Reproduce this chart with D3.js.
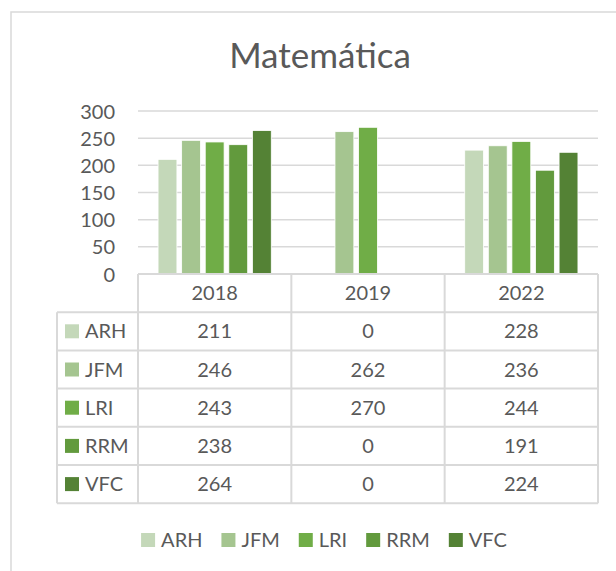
<!DOCTYPE html>
<html>
<head>
<meta charset="utf-8">
<script src="https://cdn.jsdelivr.net/npm/d3@7"></script>
<style>
  body { margin: 0; background: #fff; }
  text { font-family: Lato, "Open Sans", sans-serif; fill: #595959; }
</style>
</head>
<body>
<div class="chart-container"></div>
<script>
var totalWidth = 616;
var totalHeight = 571;

var title = 'Matemática';
var years = ['2018', '2019', '2022'];
var series = ['ARH', 'JFM', 'LRI', 'RRM', 'VFC'];
var arh = [211, 0, 228];
var jfm = [246, 262, 236];
var lri = [243, 270, 244];
var rrm = [238, 0, 191];
var vfc = [264, 0, 224];
var yTicks = [0, 50, 100, 150, 200, 250, 300];
var colors = ['#c4d8b9', '#a5c590', '#70ad47', '#629a3d', '#548235'];

var values = [arh, jfm, lri, rrm, vfc];

var plot = { left: 138, right: 598, top: 111, bottom: 274 };
var table = { left: 57, rowH: 38.2 };

var svg = d3.select('.chart-container').append('svg')
  .attr('width', totalWidth)
  .attr('height', totalHeight);

// chart frame (runs off the picture to the right and bottom)
svg.append('rect')
  .attr('x', 11).attr('y', 12)
  .attr('width', 640).attr('height', 600)
  .attr('fill', 'none')
  .attr('stroke', '#d9d9d9')
  .attr('stroke-width', 1.5);

svg.append('text')
  .attr('x', 320).attr('y', 68)
  .attr('text-anchor', 'middle')
  .style('font-size', '35px')
  .text(title);

var x0 = d3.scaleBand()
  .domain(years)
  .range([plot.left, plot.right]);

var x1 = d3.scaleBand()
  .domain(series)
  .range([0, x0.bandwidth()])
  .paddingInner(0.2)
  .paddingOuter(0.85);

var y = d3.scaleLinear()
  .domain([0, 300])
  .range([plot.bottom, plot.top]);

// gridlines
svg.append('g').selectAll('line')
  .data(yTicks.slice(1)).enter()
  .append('line')
    .attr('x1', plot.left).attr('x2', plot.right)
    .attr('y1', d => y(d)).attr('y2', d => y(d))
    .attr('stroke', '#d9d9d9')
    .attr('stroke-width', 1.5);

var yAxis = d3.axisLeft(y).tickValues(yTicks).tickSize(0).tickPadding(0);
var gY = svg.append('g')
  .attr('transform', 'translate(115,0)')
  .call(yAxis);
gY.select('.domain').remove();
gY.selectAll('text')
  .attr('dy', '0.35em')
  .style('font-size', '20px')
  .style('font-family', 'Lato, "Open Sans", sans-serif')
  .attr('fill', '#595959');

// bars
series.forEach(function (s, i) {
  svg.append('g').selectAll('rect')
    .data(values[i]).enter()
    .append('rect')
      .attr('x', (d, j) => x0(years[j]) + x1(s))
      .attr('y', d => y(d))
      .attr('width', x1.bandwidth())
      .attr('height', d => y(0) - y(d))
      .attr('fill', colors[i])
      .attr('stroke', d => d > 0 ? '#fff' : 'none')
      .attr('stroke-width', 0.8);
});

/*
 * Data table under the plot
 */
var tableTop = plot.bottom;
var headBottom = tableTop + table.rowH;
var tableBottom = headBottom + series.length * table.rowH;
var lines = svg.append('g')
  .attr('stroke', '#d9d9d9')
  .attr('stroke-width', 2)
  .attr('fill', 'none');

// horizontal lines
lines.append('line')
  .attr('x1', plot.left).attr('x2', plot.right)
  .attr('y1', tableTop).attr('y2', tableTop);
d3.range(series.length + 1).forEach(function (r) {
  var yy = headBottom + r * table.rowH;
  lines.append('line')
    .attr('x1', table.left).attr('x2', plot.right)
    .attr('y1', yy).attr('y2', yy);
});
// vertical lines
lines.append('line')
  .attr('x1', table.left).attr('x2', table.left)
  .attr('y1', headBottom).attr('y2', tableBottom);
years.concat(['end']).forEach(function (yr, k) {
  var xx = k < years.length ? x0(yr) : plot.right;
  lines.append('line')
    .attr('x1', xx).attr('x2', xx)
    .attr('y1', tableTop).attr('y2', tableBottom);
});

svg.append('g').selectAll('text')
  .data(years).enter()
  .append('text')
    .attr('x', d => x0(d) + x0.bandwidth() / 2)
    .attr('y', tableTop + table.rowH / 2)
    .attr('dy', '0.35em')
    .attr('text-anchor', 'middle')
    .style('font-size', '20px')
    .text(d => d);

series.forEach(function (s, i) {
  var cy = headBottom + i * table.rowH + table.rowH / 2;
  var row = svg.append('g');
  row.append('rect')
    .attr('x', 65).attr('y', cy - 7)
    .attr('width', 14).attr('height', 14)
    .attr('fill', colors[i]);
  row.append('text')
    .attr('x', 85).attr('y', cy)
    .attr('dy', '0.35em')
    .style('font-size', '20px')
    .text(s);
  row.selectAll('text.val')
    .data(values[i]).enter()
    .append('text')
      .attr('class', 'val')
      .attr('x', (d, j) => x0(years[j]) + x0.bandwidth() / 2)
      .attr('y', cy)
      .attr('dy', '0.35em')
      .attr('text-anchor', 'middle')
      .style('font-size', '20px')
      .text(d => d);
});

/*
 * Legend
 */
var legend = svg.append('g');
var lx = 0;
series.forEach(function (s, i) {
  var item = legend.append('g').attr('transform', `translate(${lx},0)`);
  item.append('rect')
    .attr('x', 0).attr('y', -7)
    .attr('width', 14).attr('height', 14)
    .attr('fill', colors[i]);
  var t = item.append('text')
    .attr('x', 20).attr('y', 0)
    .attr('dy', '0.35em')
    .style('font-size', '20px')
    .text(s);
  lx += 20 + t.node().getComputedTextLength() + 19;
});
var legendWidth = lx - 19;
legend.attr('transform', `translate(${324 - legendWidth / 2}, 540)`);
</script>
</body>
</html>
